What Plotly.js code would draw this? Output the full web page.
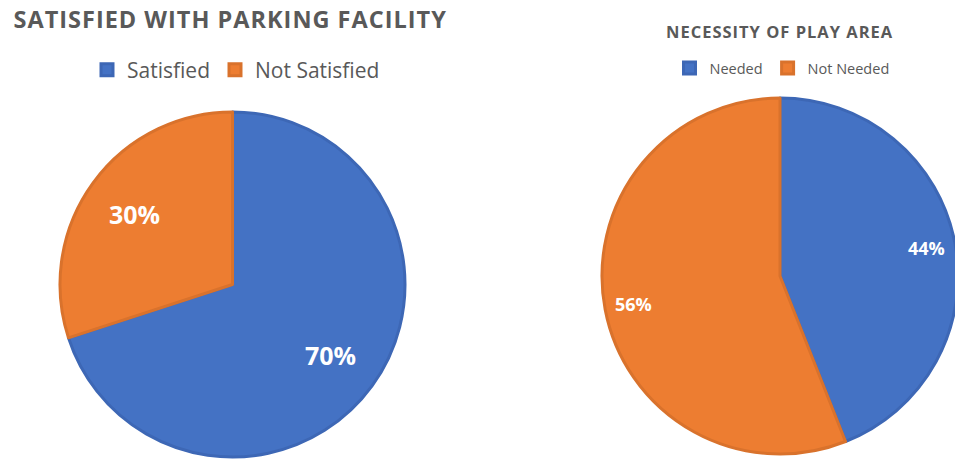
<!DOCTYPE html>
<html><head><meta charset="utf-8">
<script src="https://cdn.plot.ly/plotly-3.0.1.min.js"></script>
<style>html,body{margin:0;padding:0;overflow:hidden;background:#fff}#chart{width:960px;height:461px}
g.annotation[data-index="0"] text, g.annotation[data-index="1"] text{letter-spacing:1px}</style>
</head><body><div id="chart"></div>
<script>
const parkingTitle = 'SATISFIED WITH PARKING FACILITY';
const parkingLabels = ['Satisfied', 'Not Satisfied'];
const parkingValues = [70, 30];
const playTitle = 'NECESSITY OF PLAY AREA';
const playLabels = ['Needed', 'Not Needed'];
const playValues = [44, 56];

const W = 960, H = 461;
const blue = '#4472C4', orange = '#ED7D31';
const blueLine = '#3D67B5', orangeLine = '#D9722C';
const font = 'Open Sans, Liberation Sans, sans-serif';
const py = p => (H - p) / H;

// pie boxes in pixels (left, top, size)
const leftBox = {x0: 60, y0: 112, s: 345, labelR: 0.70, fontSize: 25};
const rightBox = {x0: 602, y0: 98, s: 356, labelR: 0.84, fontSize: 18};

function domainOf(b) {
  return {x: [b.x0 / W, (b.x0 + b.s) / W], y: [py(b.y0 + b.s), py(b.y0)]};
}

// percentage labels placed on each slice's bisector (clockwise from 12 o'clock)
function sliceLabels(values, b) {
  const total = values.reduce((a, v) => a + v, 0);
  const cx = b.x0 + b.s / 2, cy = b.y0 + b.s / 2, r = b.s / 2;
  let cum = 0;
  return values.map(v => {
    const mid = (cum + v / 2) / total * 2 * Math.PI;
    cum += v;
    return {
      text: Math.round(v / total * 100) + '%',
      xref: 'paper', yref: 'paper',
      x: (cx + b.labelR * r * Math.sin(mid)) / W,
      y: py(cy - b.labelR * r * Math.cos(mid)),
      xanchor: 'center', yanchor: 'middle', showarrow: false,
      font: {family: font, size: b.fontSize, color: '#ffffff', weight: 'bold'}
    };
  });
}

function pieTrace(labels, values, b, legendId) {
  return {
    type: 'pie', labels: labels, values: values,
    sort: false, direction: 'clockwise', rotation: 0,
    marker: {colors: [blue, orange], line: {color: [blueLine, orangeLine], width: 3}},
    textinfo: 'none',
    domain: domainOf(b),
    legend: legendId, hoverinfo: 'none'
  };
}

const traces = [
  pieTrace(parkingLabels, parkingValues, leftBox, 'legend'),
  pieTrace(playLabels, playValues, rightBox, 'legend2')
];

const layout = {
  width: W, height: H,
  margin: {l: 0, r: 0, t: 0, b: 0},
  paper_bgcolor: '#ffffff', plot_bgcolor: '#ffffff',
  showlegend: true,
  legend: {orientation: 'h', x: 236 / W, xanchor: 'center', y: py(70), yanchor: 'middle',
    font: {family: font, size: 21, color: '#595959'}, itemclick: false},
  legend2: {orientation: 'h', x: 782 / W, xanchor: 'center', y: py(68), yanchor: 'middle',
    font: {family: font, size: 14.5, color: '#595959'}, itemclick: false},
  annotations: [
    {text: parkingTitle, xref: 'paper', yref: 'paper', x: 230 / W, xanchor: 'center', y: py(19), yanchor: 'middle',
      showarrow: false, font: {family: font, size: 23.5, color: '#595959', weight: 'bold'}},
    {text: playTitle, xref: 'paper', yref: 'paper', x: 780 / W, xanchor: 'center', y: py(32), yanchor: 'middle',
      showarrow: false, font: {family: font, size: 16.5, color: '#595959', weight: 'bold'}}
  ].concat(sliceLabels(parkingValues, leftBox), sliceLabels(playValues, rightBox))
};

Plotly.newPlot('chart', traces, layout, {displayModeBar: false, staticPlot: true});
</script></body></html>
